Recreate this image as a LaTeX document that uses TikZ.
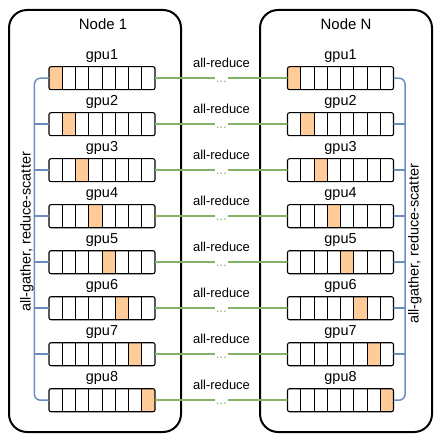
\documentclass[tikz,border=0pt]{standalone}
\usepackage{fontspec}
\setmainfont{Liberation Sans}
\definecolor{cellorange}{HTML}{FFCC99}
\definecolor{ringgreen}{HTML}{82B366}
\definecolor{treeblue}{HTML}{6C8EBF}
% one gpu buffer: name, centre x, centre y, shaded cell
\newcommand{\gpubar}[4]{%
  \begin{scope}
    \clip[rounded corners=2bp] (#2-53,#3-11.5) rectangle (#2+53,#3+11.5);
    \fill[cellorange] (#2-53+13.25*#4-13.25,#3-11.5) rectangle ++(13.25,23);
  \end{scope}
  \node[bar] (#1) at (#2,#3) {};
  \foreach \c in {1,...,7}
    \draw[line width=0.9bp] (#2-53+13.25*\c,#3-11.5) -- ++(0,23);
}
\begin{document}
\begin{tikzpicture}[x=1bp,y=-1bp,line join=round,line cap=round,
    box/.style={line width=2bp,rounded corners=18bp},
    bar/.style={draw,line width=1.1bp,rounded corners=2bp,minimum width=106bp,minimum height=23bp,inner sep=0pt},
    ring/.style={ringgreen,line width=1.6bp},
    tree/.style={treeblue,line width=1.5bp,rounded corners=6bp},
    title/.style={font=\fontsize{15}{17}\selectfont},
    gpulbl/.style={font=\fontsize{14.5}{16}\selectfont},
    redlbl/.style={font=\fontsize{13}{15}\selectfont,inner sep=1bp},
    dots/.style={font=\fontsize{13}{15}\selectfont,fill=white,inner sep=1bp,
      text height=6bp,text depth=0pt,anchor=base,yshift=-4bp},
    rotlbl/.style={font=\fontsize{14.5}{16}\selectfont,rotate=90}]
  \useasboundingbox (0,0) rectangle (438,444);
  \draw[box] (9,10) rectangle (181,432);
  \draw[box] (260,10) rectangle (432,432);
  \node[title] (node1) at (103,24) {Node 1};
  \node[title] (nodeN) at (346,24) {Node N};
  \foreach \i in {1,...,8}{
    \pgfmathsetmacro{\y}{78.2+46*(\i-1)}
    \gpubar{l\i}{102}{\y}{\i}
    \gpubar{r\i}{340.5}{\y}{\i}
    \node[gpulbl] (gl\i) at (102,\y-22) {gpu\i};
    \node[gpulbl] (gr\i) at (340.5,\y-22) {gpu\i};
    \node[redlbl] (ar\i) at (221.5,\y-15) {all-reduce};
    \draw[ring] (l\i.east) -- node[dots] (dd\i) {...} (r\i.west);
  }
  % reduce trees inside each node
  \draw[tree] (l1.west) -- ++(-14,0) |- (l8.west);
  \draw[tree] (r1.east) -- ++(11,0) |- (r8.east);
  \foreach \i in {2,...,7}{
    \draw[treeblue,line width=1.5bp] (l\i.west) -- ++(-14,0);
    \draw[treeblue,line width=1.5bp] (r\i.east) -- ++(11,0);
  }
  \node[rotlbl] (agl) at (27,232) {all-gather, reduce-scatter};
  \node[rotlbl] (agr) at (415,244) {all-gather, reduce-scatter};
\end{tikzpicture}
\end{document}
